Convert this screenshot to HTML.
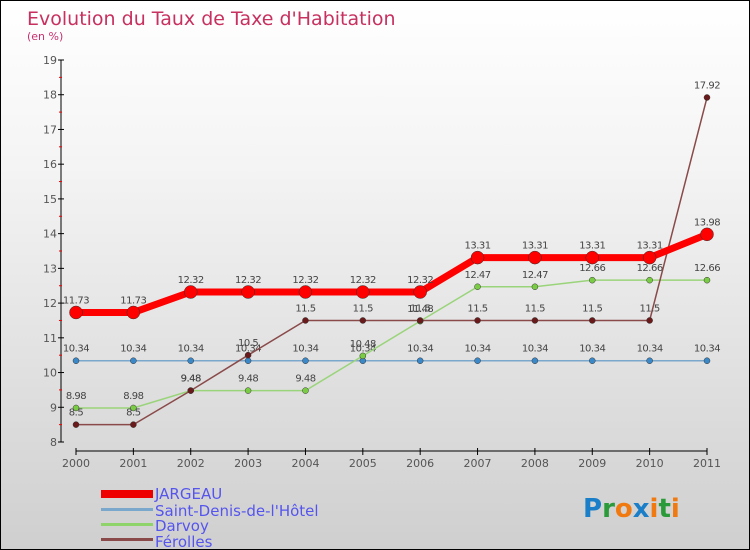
<!DOCTYPE html>
<html><head><meta charset="utf-8"><style>
body{margin:0}
#c{width:748px;height:548px;border:1px solid #000;background:linear-gradient(#fff,#f4f4f4 30%,#cfcfcf);position:relative;font-family:"DejaVu Sans","Liberation Sans",sans-serif;overflow:hidden}
</style></head><body>
<div id="c">
<svg id="s" width="748" height="548" xmlns="http://www.w3.org/2000/svg" style="position:absolute;left:0;top:0">
<text x="26" y="24" font-size="19" fill="#c8305f">Evolution du Taux de Taxe d'Habitation</text>
<text x="26" y="39" font-size="11" fill="#c8306f">(en %)</text>
<g id="axes"></g><g id="series"></g>
<g font-size="15" fill="#5555ee">
<rect x="100" y="489" width="52" height="8" fill="#e00"/>
<text x="154" y="498">JARGEAU</text>
<rect x="100" y="507" width="52" height="3" fill="#7aa8cc"/>
<text x="154" y="515">Saint-Denis-de-l'Hôtel</text>
<rect x="100" y="522" width="52" height="3" fill="#8fd46a"/>
<text x="154" y="530">Darvoy</text>
<rect x="100" y="537" width="52" height="3" fill="#8a4a4a"/>
<text x="154" y="546">Férolles</text>
</g>
<text x="582" y="516" font-size="26" font-weight="bold"><tspan fill="#1a7ec8">P</tspan><tspan fill="#2a9a3a">r</tspan><tspan fill="#f07a10">o</tspan><tspan fill="#1a7ec8">x</tspan><tspan fill="#f07a10">i</tspan><tspan fill="#2a9a3a">t</tspan><tspan fill="#f07a10">i</tspan></text>
</svg></div>
<script>
const years=[2000,2001,2002,2003,2004,2005,2006,2007,2008,2009,2010,2011];
const yTicks=[8,9,10,11,12,13,14,15,16,17,18,19];
const jargeau=[11.73,11.73,12.32,12.32,12.32,12.32,12.32,13.31,13.31,13.31,13.31,13.98];
const saintDenis=[10.34,10.34,10.34,10.34,10.34,10.34,10.34,10.34,10.34,10.34,10.34,10.34];
const darvoy=[8.98,8.98,9.48,9.48,9.48,10.48,11.48,12.47,12.47,12.66,12.66,12.66];
const ferolles=[8.5,8.5,9.48,10.5,11.5,11.5,11.5,11.5,11.5,11.5,11.5,17.92];
const NS="http://www.w3.org/2000/svg";
const X=i=>75+i*(706-75)/11;
const Y=v=>441-(v-8)*(441-59)/11;
function mk(t,a,p){const e=document.createElementNS(NS,t);for(const k in a)e.setAttribute(k,a[k]);p.appendChild(e);return e;}
const ax=document.getElementById('axes');
let l=mk('line',{x1:60,y1:59,x2:60,y2:441,stroke:'#000'},ax);


yTicks.forEach(v=>{
 mk('line',{x1:57,x2:63,y1:Y(v),y2:Y(v),stroke:'#000'},ax);
 if(v<19)mk('line',{x1:58,x2:61,y1:Y(v+0.5),y2:Y(v+0.5),stroke:'#e00'},ax);
 const t=mk('text',{x:56,y:Y(v)+4,'font-size':11,fill:'#555','text-anchor':'end'},ax);t.textContent=v;
 
 
});
l=mk('line',{x1:75,y1:450,x2:706,y2:450,stroke:'#000'},ax);


years.forEach((y,i)=>{
 mk('line',{x1:X(i),x2:X(i),y1:447,y2:454,stroke:'#000'},ax);
 const t=mk('text',{x:X(i),y:466,'font-size':11,fill:'#555','text-anchor':'middle'},ax);t.textContent=y;
 
 
});
const sg=document.getElementById('series');
function draw(vals,name,col,w,r,dot){
 const g=mk('g',{},sg);
 
 
 const pl=mk('polyline',{points:vals.map((v,i)=>X(i)+','+Y(v)).join(' '),fill:'none',stroke:col,'stroke-width':w},g);
 
 
 vals.forEach((v,i)=>{
  const c=mk('circle',{cx:X(i),cy:Y(v),r:r,fill:dot,stroke:'#333','stroke-width':0.5},g);
  
  
  const t=mk('text',{x:X(i),y:Y(v)-9,'font-size':10,fill:'#444','text-anchor':'middle','letter-spacing':'-0.5'},g);t.textContent=v;
  
  
 });
}
draw(saintDenis,'saint-denis','#7aa8cc',1.5,3,'#3a88c8');
draw(darvoy,'darvoy','#9ad47a',1.5,3,'#7acc44');
draw(ferolles,'ferolles','#8a4a4a',1.5,3,'#6a1a1a');
draw(jargeau,'jargeau','#f00',7,6.5,'#f00');
</script>
</body></html>
